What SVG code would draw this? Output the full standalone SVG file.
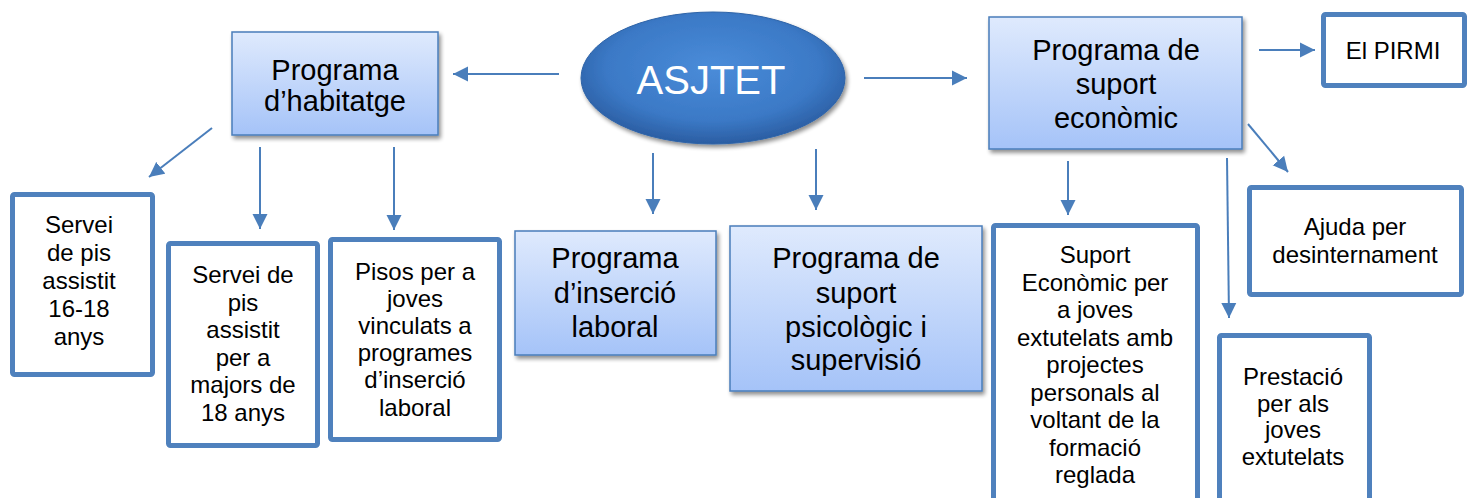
<svg xmlns="http://www.w3.org/2000/svg" width="1472" height="498" viewBox="0 0 1472 498">
<defs>
<linearGradient id="blueBox" x1="0" y1="0" x2="0" y2="1">
<stop offset="0" stop-color="#dfeafd"/>
<stop offset="1" stop-color="#a5c3f8"/>
</linearGradient>
<radialGradient id="ellFill" cx="50%" cy="42%" r="62%">
<stop offset="0" stop-color="#4a8cd9"/>
<stop offset="0.65" stop-color="#3b79c6"/>
<stop offset="1" stop-color="#27579a"/>
</radialGradient>
<filter id="shadow" x="-10%" y="-10%" width="125%" height="130%">
<feGaussianBlur in="SourceAlpha" stdDeviation="2"/>
<feOffset dx="2" dy="3" result="b"/>
<feComponentTransfer><feFuncA type="linear" slope="0.45"/></feComponentTransfer>
<feMerge><feMergeNode/><feMergeNode in="SourceGraphic"/></feMerge>
</filter>
<marker id="arr" markerUnits="userSpaceOnUse" markerWidth="16" markerHeight="16" viewBox="0 0 16 16" refX="15" refY="8" orient="auto">
<path d="M0,0.5 L15,8 L0,15.5 Z" fill="#4a7ebb"/>
</marker>
</defs>
<style>
.blue{fill:url(#blueBox);stroke:#4a7ebb;stroke-width:1.5;filter:url(#shadow)}
.white{fill:#ffffff;stroke:#4f81bd;stroke-width:5}
.t{font-family:"Liberation Sans",Arial,sans-serif;fill:#000000;text-anchor:middle}
.big{font-size:29px}
.small{font-size:24px}
.conn{stroke:#4a7ebb;stroke-width:2;fill:none;marker-end:url(#arr)}
</style>

<g id="connectors">
<line class="conn" x1="559" y1="74" x2="453" y2="74"/>
<line class="conn" x1="864" y1="78" x2="967" y2="78"/>
<line class="conn" x1="212" y1="128" x2="149" y2="177"/>
<line class="conn" x1="260" y1="147" x2="260" y2="229"/>
<line class="conn" x1="394" y1="147" x2="394" y2="230"/>
<line class="conn" x1="653" y1="153" x2="653" y2="214"/>
<line class="conn" x1="816" y1="149" x2="816" y2="210"/>
<line class="conn" x1="1259" y1="50" x2="1315" y2="50"/>
<line class="conn" x1="1248" y1="124" x2="1288" y2="172"/>
<line class="conn" x1="1068" y1="161" x2="1068" y2="215"/>
<line class="conn" x1="1227" y1="158" x2="1229" y2="318"/>
</g>

<g id="asjtet">
<ellipse cx="713" cy="78" rx="132" ry="66" fill="url(#ellFill)" stroke="#2f64a8" stroke-width="1" filter="url(#shadow)"/>
<text class="t" x="711" y="94" font-size="40" style="fill:#ffffff">ASJTET</text>
</g>

<g id="habitatge">
<rect class="blue" x="232" y="32" width="206" height="103"/>
<text class="t big" x="335" y="80">Programa</text>
<text class="t big" x="335" y="111">d’habitatge</text>
</g>

<g id="insercio">
<rect class="blue" x="515" y="231" width="201" height="124"/>
<text class="t big" x="615" y="268">Programa</text>
<text class="t big" x="615" y="303">d’inserció</text>
<text class="t big" x="615" y="337">laboral</text>
</g>

<g id="psicologic">
<rect class="blue" x="730" y="226" width="252" height="165"/>
<text class="t big" x="856" y="268">Programa de</text>
<text class="t big" x="856" y="303">suport</text>
<text class="t big" x="856" y="337">psicològic i</text>
<text class="t big" x="856" y="370">supervisió</text>
</g>

<g id="economic">
<rect class="blue" x="989" y="17" width="253" height="132"/>
<text class="t big" x="1116" y="60">Programa de</text>
<text class="t big" x="1116" y="94">suport</text>
<text class="t big" x="1116" y="128">econòmic</text>
</g>

<g id="servei1618">
<rect class="white" x="12.5" y="194.5" width="140" height="180" rx="2"/>
<text class="t small" x="79" y="233">Servei</text>
<text class="t small" x="79" y="261">de pis</text>
<text class="t small" x="79" y="289">assistit</text>
<text class="t small" x="79" y="317">16-18</text>
<text class="t small" x="79" y="345">anys</text>
</g>

<g id="servei18">
<rect class="white" x="168.5" y="243.5" width="149" height="202" rx="2"/>
<text class="t small" x="243" y="283">Servei de</text>
<text class="t small" x="243" y="311">pis</text>
<text class="t small" x="243" y="338">assistit</text>
<text class="t small" x="243" y="366">per a</text>
<text class="t small" x="243" y="393">majors de</text>
<text class="t small" x="243" y="421">18 anys</text>
</g>

<g id="pisos">
<rect class="white" x="330.5" y="239.5" width="169" height="200" rx="2"/>
<text class="t small" x="415" y="280">Pisos per a</text>
<text class="t small" x="415" y="307">joves</text>
<text class="t small" x="415" y="334">vinculats a</text>
<text class="t small" x="415" y="361">programes</text>
<text class="t small" x="415" y="388">d’inserció</text>
<text class="t small" x="415" y="416">laboral</text>
</g>

<g id="pirmi">
<rect class="white" x="1323.5" y="14.5" width="141" height="71" rx="2"/>
<text class="t small" x="1393" y="59">El PIRMI</text>
</g>

<g id="ajuda">
<rect class="white" x="1249.5" y="187.5" width="212" height="107" rx="2"/>
<text class="t small" x="1355" y="235">Ajuda per</text>
<text class="t small" x="1355" y="263">desinternament</text>
</g>

<g id="suporteco">
<rect class="white" x="993.5" y="225.5" width="204" height="290" rx="2"/>
<text class="t small" x="1095" y="263">Suport</text>
<text class="t small" x="1095" y="291">Econòmic per</text>
<text class="t small" x="1095" y="318">a joves</text>
<text class="t small" x="1095" y="346">extutelats amb</text>
<text class="t small" x="1095" y="373">projectes</text>
<text class="t small" x="1095" y="401">personals al</text>
<text class="t small" x="1095" y="428">voltant de la</text>
<text class="t small" x="1095" y="456">formació</text>
<text class="t small" x="1095" y="483">reglada</text>
</g>

<g id="prestacio">
<rect class="white" x="1219.5" y="335.5" width="150" height="180" rx="2"/>
<text class="t small" x="1293" y="385">Prestació</text>
<text class="t small" x="1293" y="412">per als</text>
<text class="t small" x="1293" y="438">joves</text>
<text class="t small" x="1293" y="465">extutelats</text>
</g>
</svg>
